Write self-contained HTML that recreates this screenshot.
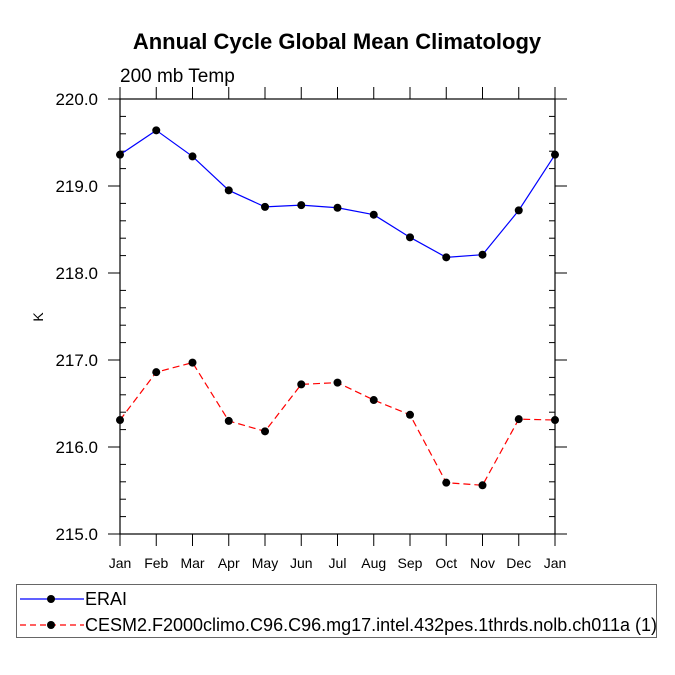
<!DOCTYPE html>
<html><head><meta charset="utf-8"><style>
body{margin:0;background:#fff}
svg{display:block;font-family:"Liberation Sans",Helvetica,sans-serif}
</style></head><body>
<svg width="675" height="675" viewBox="0 0 675 675">
<text x="337" y="49" text-anchor="middle" font-size="22" font-weight="bold">Annual Cycle Global Mean Climatology</text>
<text x="120" y="82" font-size="19">200 mb Temp</text>
<text transform="translate(43,317) rotate(-90)" text-anchor="middle" font-size="14">K</text>
<rect x="120" y="99" width="435" height="435" fill="none" stroke="#000" stroke-width="1.2"/>
<g id="axes"></g>
<g id="series"></g>
<rect x="16.5" y="584.5" width="640" height="53" fill="none" stroke="#666"/>
<g>
<line x1="20" y1="599" x2="84" y2="599" stroke="#0000ff" stroke-width="1.2"/>
<circle cx="51" cy="599" r="4" fill="#000"/>
<text x="85" y="605" font-size="18">ERAI</text>
</g>
<g>
<line x1="20" y1="625" x2="84" y2="625" stroke="#ff0000" stroke-width="1.2" stroke-dasharray="6,4"/>
<circle cx="51" cy="625" r="4" fill="#000"/>
<text x="85" y="631" font-size="18">CESM2.F2000climo.C96.C96.mg17.intel.432pes.1thrds.nolb.ch011a (1)</text>
</g>
</svg>
<script>
const months = ["Jan","Feb","Mar","Apr","May","Jun","Jul","Aug","Sep","Oct","Nov","Dec","Jan"];
const eraiValues = [219.36,219.64,219.34,218.95,218.76,218.78,218.75,218.67,218.41,218.18,218.21,218.72,219.36];
const cesmValues = [216.31,216.86,216.97,216.30,216.18,216.72,216.74,216.54,216.37,215.59,215.56,216.32,216.31];
const yTicks = [215,216,217,218,219,220];
const yMin = 215, yMax = 220;
const NS = "http://www.w3.org/2000/svg";
const L=120,R=555,T=99,B=534;
const xs = i => L + i*(R-L)/(months.length-1);
const ys = v => B - (v-yMin)/(yMax-yMin)*(B-T);
function mk(tag, attrs, parent){const e=document.createElementNS(NS,tag);for(const k in attrs)e.setAttribute(k,attrs[k]);parent.appendChild(e);return e;}
const ax=document.getElementById('axes');
yTicks.forEach(v=>{
  const y=ys(v);
  const t=mk('line',{x1:108,x2:L,y1:y,y2:y,stroke:'#000'},ax);
  
  
  const t2=mk('line',{x1:R,x2:R+12,y1:y,y2:y,stroke:'#000'},ax);
  
  
  const lb=mk('text',{x:98,y:y+6,'text-anchor':'end','font-size':17},ax);
  lb.textContent=v.toFixed(1);
  
  
});
for(let v=yMin;v<yMax-0.01;v+=0.2){
  if(Math.abs(v-Math.round(v))<0.01)continue;
  const y=ys(v);
  const m=mk('line',{x1:L,x2:L+6,y1:y,y2:y,stroke:'#000'},ax);
  
  
  const m2=mk('line',{x1:R-6,x2:R,y1:y,y2:y,stroke:'#000'},ax);
  
  
}
months.forEach((m,i)=>{
  const x=xs(i);
  const t=mk('line',{x1:x,x2:x,y1:B,y2:B+12,stroke:'#000'},ax);
  
  
  const t2=mk('line',{x1:x,x2:x,y1:T-12,y2:T,stroke:'#000'},ax);
  
  
  const lb=mk('text',{x:x,y:568,'text-anchor':'middle','font-size':14},ax);
  lb.textContent=m;
  
  
});
const sg=document.getElementById('series');
function series(vals,color,dash,name){
  const p=mk('polyline',{points:vals.map((v,i)=>xs(i)+','+ys(v)).join(' '),fill:'none',stroke:color,'stroke-width':1.2},sg);
  if(dash)p.setAttribute('stroke-dasharray',dash);
  
  
  vals.forEach((v,i)=>{
    const c=mk('circle',{cx:xs(i),cy:ys(v),r:4,fill:'#000'},sg);
    
    
  });
}
series(eraiValues,'#0000ff',null,'erai');
series(cesmValues,'#ff0000','7,4','cesm2');
</script>
</body></html>
